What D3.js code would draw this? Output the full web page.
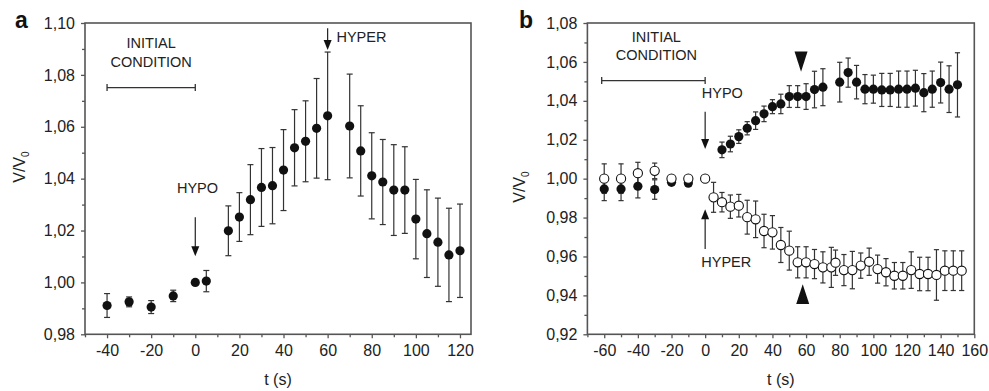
<!DOCTYPE html>
<html lang="en">

  <head>
    <meta charset="UTF-8" />
    <title>V/V0</title>
    <script src="https://cdn.jsdelivr.net/npm/d3@7/dist/d3.min.js"></script>
    <style>
      body { margin: 0; background: #fff; }
      svg { font-family: "Liberation Sans", Arial, sans-serif; }
    </style>
  </head>

  <body>
    <svg class="svg" width="989" height="391"></svg>
    <script>
      // panel a
      const tA = [-40, -30, -20, -10, 0, 5, 15, 20, 25, 30, 35, 40, 45, 50, 55, 60, 70, 75, 80, 85, 90, 95, 100, 105, 110, 115, 120];
      const vA = [0.9911, 0.9925, 0.9905, 0.9948, 1.0, 1.0005, 1.0199, 1.0252, 1.0319, 1.0366, 1.0373, 1.0433, 1.0519, 1.0544, 1.0594, 1.0642,
        1.0603, 1.0507, 1.0411, 1.0387, 1.0356, 1.0356, 1.0244, 1.0188, 1.0155, 1.0106, 1.0122];
      const eA = [0.0046, 0.0019, 0.0025, 0.0022, 0, 0.0041, 0.0096, 0.0094, 0.0135, 0.015, 0.0147, 0.0156, 0.0147, 0.0156, 0.0192, 0.0246,
        0.02, 0.0174, 0.0166, 0.0164, 0.0175, 0.0167, 0.0153, 0.0169, 0.017, 0.018, 0.018];

      // panel b, filled (hypo)
      const tB1 = [-60, -50, -40, -30, -20, -10, 10, 15, 20, 25, 30, 35, 40, 45, 50, 55, 60, 65, 70,
        80, 85, 90, 95, 100, 105, 110, 115, 120, 125, 130, 135, 140, 145, 150];
      const vB1 = [0.9947, 0.9947, 0.9961, 0.9944, 0.9981, 0.9977, 1.0148, 1.0178, 1.0216, 1.0259, 1.0298, 1.0333, 1.037, 1.0384, 1.0422, 1.0422, 1.0422, 1.0458, 1.047,
        1.0496, 1.0545, 1.0496, 1.046, 1.046, 1.0456, 1.0456, 1.046, 1.046, 1.0465, 1.0442, 1.046, 1.0494, 1.046, 1.0482];
      const eB1 = [0.006, 0.006, 0.006, 0.005, 0.001, 0.001, 0.004, 0.004, 0.0035, 0.0034, 0.0045, 0.004, 0.0036, 0.005, 0.0056, 0.0056, 0.0066, 0.0094, 0.0095,
        0.0102, 0.0075, 0.0086, 0.0075, 0.0072, 0.0085, 0.0085, 0.0093, 0.0093, 0.0092, 0.0098, 0.0093, 0.0105, 0.012, 0.0165];

      // panel b, open (hyper)
      const tB2 = [-60, -50, -40, -30, -20, -10, 0, 5, 10, 15, 20, 25, 30, 35, 40, 45, 50, 55, 60, 65, 70, 75,
        77.5, 82.5, 87.5, 92.5, 97.5, 102.5, 107.5, 112.5, 117.5, 122.5, 127.5, 132.5, 137.5, 142.5, 147.5, 152.5];
      const vB2 = [1.0, 1.0, 1.0028, 1.004, 1.0, 1.0, 1.0, 0.9904, 0.9879, 0.9856, 0.9861, 0.9802, 0.9791, 0.9731, 0.9724, 0.9659, 0.963, 0.957, 0.957, 0.9561, 0.9544, 0.9544,
        0.9568, 0.953, 0.953, 0.9553, 0.9573, 0.9535, 0.9519, 0.9501, 0.9501, 0.953, 0.951, 0.951, 0.9505, 0.9527, 0.9527, 0.9527];
      const eB2 = [0.0076, 0.0076, 0.0056, 0.004, 0.001, 0.001, 0, 0.0077, 0.005, 0.006, 0.0058, 0.0087, 0.0094, 0.0086, 0.0086, 0.009, 0.01, 0.008, 0.008, 0.0075, 0.008, 0.0103,
        0.0065, 0.008, 0.0096, 0.0065, 0.007, 0.0072, 0.007, 0.0068, 0.0068, 0.0094, 0.0086, 0.0086, 0.013, 0.0102, 0.0102, 0.0102];

      const xTicksA = [-40, -20, 0, 20, 40, 60, 80, 100, 120];
      const yTicksA = [0.98, 1.0, 1.02, 1.04, 1.06, 1.08, 1.1];
      const xTicksB = [-60, -40, -20, 0, 20, 40, 60, 80, 100, 120, 140, 160];
      const yTicksB = [0.92, 0.94, 0.96, 0.98, 1.0, 1.02, 1.04, 1.06, 1.08];

      const svg = d3.select('.svg');
      const comma = d3.formatLocale({ decimal: ',', thousands: '.', grouping: [3], currency: ['', ''] }).format('.2f');
      const ink = '#111';
      const axisCol = '#555';

      function panel(opt) {
        const x = d3.scaleLinear().domain(opt.xDom).range(opt.xRange);
        const y = d3.scaleLinear().domain(opt.yDom).range([334.3, 23]);
        const g = svg.append('g');

        // minor ticks
        const xMinor = d3.range(opt.xDom[0], opt.xDom[1] + 0.1, 10).filter(v => !opt.xTicks.includes(v));
        const yMinor = d3.range(0, 20).map(i => +(opt.yDom[0] + 0.01 * i).toFixed(2))
          .filter(v => v <= opt.yDom[1] && !opt.yTicks.some(t => Math.abs(t - v) < 1e-6));

        g.append('g').attr('transform', `translate(0,${y.range()[0]})`)
          .call(d3.axisBottom(x).tickValues(opt.xTicks).tickSize(4).tickPadding(6).tickSizeOuter(0).tickFormat(d => String(d)));
        g.append('g').attr('transform', `translate(0,${y.range()[0]})`)
          .call(d3.axisBottom(x).tickValues(xMinor).tickSize(3).tickSizeOuter(0).tickFormat(''));
        g.append('g').attr('transform', `translate(${x.range()[0]},0)`)
          .call(d3.axisLeft(y).tickValues(opt.yTicks).tickSize(4).tickPadding(6).tickSizeOuter(0).tickFormat(comma));
        g.append('g').attr('transform', `translate(${x.range()[0]},0)`)
          .call(d3.axisLeft(y).tickValues(yMinor).tickSize(3).tickSizeOuter(0).tickFormat(''));

        g.selectAll('.domain').remove();
        g.selectAll('.tick line').attr('stroke', axisCol).attr('stroke-width', 1.3);
        g.selectAll('.tick text').attr('font-size', 16).attr('fill', '#222')
          .attr('font-family', '"Liberation Sans", Arial, sans-serif');

        // frame
        g.append('rect')
          .attr('x', x.range()[0]).attr('y', y.range()[1])
          .attr('width', x.range()[1] - x.range()[0])
          .attr('height', y.range()[0] - y.range()[1])
          .attr('fill', 'none').attr('stroke', axisCol).attr('stroke-width', 1.6);

        // axis titles
        g.append('text')
          .attr('x', (x.range()[0] + x.range()[1]) / 2).attr('y', 385)
          .attr('text-anchor', 'middle').attr('font-size', 16).attr('fill', '#222')
          .text('t (s)');
        const yl = g.append('text')
          .attr('transform', `translate(${opt.yLabel[0]},${opt.yLabel[1]}) rotate(-90)`)
          .attr('text-anchor', 'middle').attr('font-size', 16).attr('fill', '#222');
        yl.append('tspan').text('V/V');
        yl.append('tspan').attr('font-size', 10).attr('dy', 4).text('0');

        g.append('text')
          .attr('x', opt.letter[0]).attr('y', 28.3)
          .attr('font-size', 23).attr('font-weight', 'bold').attr('fill', '#111')
          .text(opt.letterText);

        return { g, x, y };
      }

      function errBars(p, t, v, e, col, cap) {
        const grp = p.g.append('g').attr('stroke', col).attr('stroke-width', 1.2);
        const d = t.map((tt, i) => ({ t: tt, v: v[i], e: e[i] })).filter(d => d.e > 0);
        grp.selectAll('.eb').data(d).enter().append('line')
          .attr('x1', d => p.x(d.t)).attr('x2', d => p.x(d.t))
          .attr('y1', d => p.y(d.v - d.e)).attr('y2', d => p.y(d.v + d.e));
        ['-', '+'].forEach(s => {
          grp.selectAll('.cap' + (s === '-' ? 'l' : 'h')).data(d).enter().append('line')
            .attr('x1', d => p.x(d.t) - cap).attr('x2', d => p.x(d.t) + cap)
            .attr('y1', d => p.y(s === '-' ? d.v - d.e : d.v + d.e))
            .attr('y2', d => p.y(s === '-' ? d.v - d.e : d.v + d.e));
        });
      }

      function dots(p, t, v, filled) {
        p.g.append('g').selectAll('circle')
          .data(t.map((tt, i) => ({ t: tt, v: v[i] })))
          .enter().append('circle')
          .attr('cx', d => p.x(d.t)).attr('cy', d => p.y(d.v))
          .attr('r', 4.6)
          .attr('fill', filled ? ink : '#fff')
          .attr('stroke', ink).attr('stroke-width', filled ? 0 : 1.1);
      }

      function note(p, t, v, txt, anchor) {
        p.g.append('text')
          .attr('x', p.x(t)).attr('y', p.y(v))
          .attr('text-anchor', anchor).attr('font-size', 14.5).attr('fill', '#222')
          .text(txt);
      }

      function arrow(p, t, v0, v1) {
        const X = p.x(t), Y0 = p.y(v0), Y1 = p.y(v1);
        const dir = Y1 > Y0 ? 1 : -1;
        p.g.append('line').attr('x1', X).attr('x2', X).attr('y1', Y0).attr('y2', Y1 - dir * 8)
          .attr('stroke', '#222').attr('stroke-width', 1.2);
        p.g.append('path')
          .attr('d', `M${X - 4},${Y1 - dir * 10}L${X + 4},${Y1 - dir * 10}L${X},${Y1}Z`)
          .attr('fill', '#111');
      }

      function span(p, t0, t1, v) {
        const Y = p.y(v);
        p.g.append('path')
          .attr('d', `M${p.x(t0)},${Y}H${p.x(t1)}M${p.x(t0)},${Y - 3.5}V${Y + 3.5}M${p.x(t1)},${Y - 3.5}V${Y + 3.5}`)
          .attr('fill', 'none').attr('stroke', '#333').attr('stroke-width', 1.3);
      }

      // solid marker triangle: base at v0, tip at v1
      function marker(p, t, v0, v1) {
        const X = p.x(t), B = p.y(v0), T = p.y(v1);
        p.g.append('path')
          .attr('d', `M${X - 6.5},${B}L${X + 6.5},${B}L${X},${T}Z`)
          .attr('fill', '#111');
      }

      // ---- panel a
      const pa = panel({
        xDom: [-50, 125], xRange: [85, 471], yDom: [0.98, 1.10],
        xTicks: xTicksA, yTicks: yTicksA, yLabel: [25, 167], letter: [15, 0], letterText: 'a'
      });
      errBars(pa, tA, vA, eA, '#333', 3);
      dots(pa, tA, vA, true);
      note(pa, -20, 1.0904, 'INITIAL', 'middle');
      note(pa, -20, 1.0832, 'CONDITION', 'middle');
      span(pa, -40, 0, 1.0751);
      note(pa, 1, 1.0345, 'HYPO', 'middle');
      arrow(pa, 0, 1.0251, 1.0101);
      arrow(pa, 60, 1.098, 1.0896);
      note(pa, 64, 1.0928, 'HYPER', 'start');

      // ---- panel b
      const pb = panel({
        xDom: [-70, 160], xRange: [587.4, 974.3], yDom: [0.92, 1.08],
        xTicks: xTicksB, yTicks: yTicksB, yLabel: [525, 187], letter: [519, 0], letterText: 'b'
      });
      errBars(pb, tB1, vB1, eB1, '#333', 2.6);
      errBars(pb, tB2, vB2, eB2, '#333', 2.6);
      dots(pb, tB1, vB1, true);
      dots(pb, tB2, vB2, false);
      note(pb, -29, 1.0704, 'INITIAL', 'middle');
      note(pb, -29, 1.061, 'CONDITION', 'middle');
      span(pb, -61.5, 0, 1.0504);
      note(pb, -2, 1.0413, 'HYPO', 'start');
      arrow(pb, 0, 1.0344, 1.0153);
      note(pb, -2.3, 0.9544, 'HYPER', 'start');
      arrow(pb, 0, 0.9639, 0.9843);

      // plateau markers
      marker(pb, 57, 1.0653, 1.055);
      marker(pb, 58, 0.9356, 0.9457);
    </script>
  </body>

</html>
